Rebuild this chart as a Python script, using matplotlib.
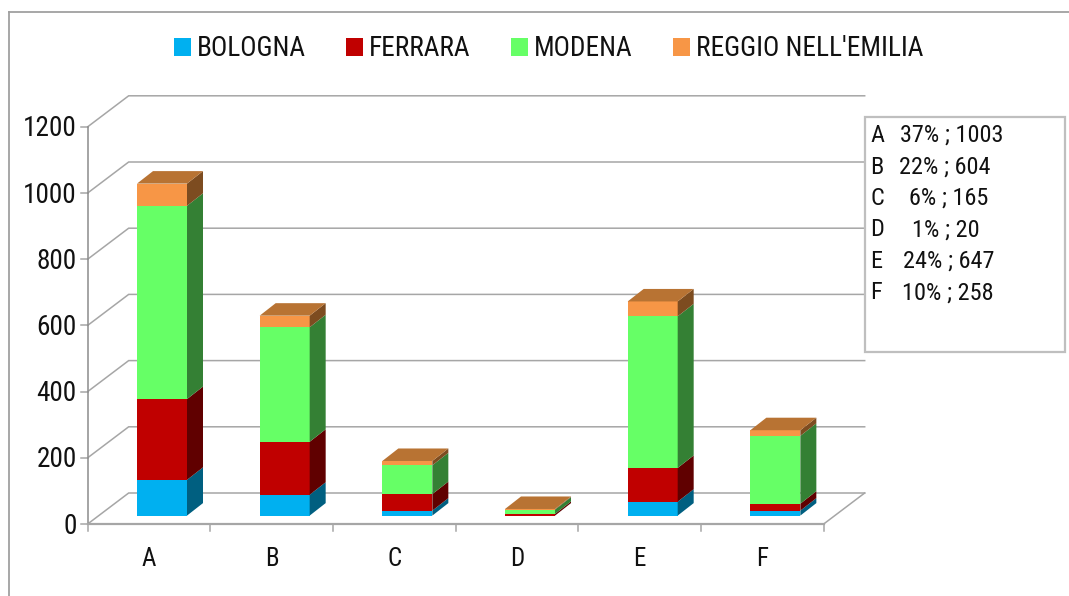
import matplotlib
matplotlib.use("Agg")
import matplotlib.pyplot as plt
import numpy as np
from matplotlib.patches import Rectangle

plt.rcParams['font.family'] = ['Roboto Condensed', 'Archivo Narrow', 'Liberation Sans', 'DejaVu Sans']

categories = ['A', 'B', 'C', 'D', 'E', 'F']
series_names = ['BOLOGNA', 'FERRARA', 'MODENA', "REGGIO NELL'EMILIA"]
bologna = [108, 63, 15, 0, 42, 15]
ferrara = [244, 160, 50, 5, 102, 21]
modena = [584, 346, 87, 13, 458, 205]
reggio = [67, 35, 13, 2, 45, 17]
y_ticks = [0, 200, 400, 600, 800, 1000, 1200]
box_letters = ['A', 'B', 'C', 'D', 'E', 'F']
box_texts = ['37% ; 1003', '22% ; 604', '6% ; 165', '1% ; 20', '24% ; 647', '10% ; 258']

W, H = 1069, 596
colors = ['#00B0F0', '#C00000', '#66FF66', '#F79646']
side_colors = ['#005F80', '#600000', '#348034', '#7D4C20']
top_color = '#B87333'
grid_c = '#a6a6a6'
frame_c = '#a0a0a0'

# pixel geometry of the chart
PX0, STEP = 149.0, 122.67      # first category centre, category spacing
PY0, PPU = 524.0, 0.331        # baseline pixel row, pixels per unit

fig = plt.figure(figsize=(W / 100, H / 100), dpi=100)
ax = fig.add_axes([0, 0, 1, 1])
ax.set_xlim((0 - PX0) / STEP, (W - PX0) / STEP)
ax.set_ylim((PY0 - H) / PPU, PY0 / PPU)
ax.axis('off')

dxu = lambda px: px / STEP
dyu = lambda px: px / PPU

# depth of the whole floor, bar offset and bar depth (pixels)
WALL_DX, WALL_DY = 41, 31
OFF_DX, OFF_DY = 13, 8.4
BAR_W, BAR_DX, BAR_DY = 50, 16, 12.5

x = np.arange(len(categories))
xl, xr = x[0] - 0.5, x[-1] + 0.5

# outer frame (figure coords)
fig.add_artist(plt.Line2D([9 / W, 9 / W], [0, 1 - 12 / H], color=frame_c, lw=1.3))
fig.add_artist(plt.Line2D([9 / W, 1], [1 - 12 / H, 1 - 12 / H], color=frame_c, lw=1.3))

# back wall grid and diagonal
for v in y_ticks:
    ax.plot([xl, xl + dxu(WALL_DX), xr + dxu(WALL_DX)],
            [v, v + dyu(WALL_DY), v + dyu(WALL_DY)],
            color=grid_c, lw=1.1, zorder=1, solid_joinstyle='miter')
    ax.plot([xl - dxu(7), xl], [v, v], color=grid_c, lw=1.1, zorder=1)
ax.plot([xr, xr + dxu(WALL_DX)], [0, dyu(WALL_DY)], color=grid_c, lw=1.1, zorder=1)

# front axes
ax.plot([xl, xl], [y_ticks[0], y_ticks[-1]], color='#8c8c8c', lw=1.1, zorder=1)
ax.plot([xl, xr], [0, 0], color=grid_c, lw=1.6, zorder=1)
for t in np.arange(len(categories) + 1) - 0.5:
    ax.plot([t, t], [0, -dyu(7)], color=grid_c, lw=1.1, zorder=1)

# stacked bars
stack = [bologna, ferrara, modena, reggio]
w = dxu(BAR_W)
xc = x + dxu(OFF_DX)
base = dyu(OFF_DY)
bottom = np.full(len(x), base, dtype=float)
handles = []
for vals, c, sc, name in zip(stack, colors, side_colors, series_names):
    vals = np.array(vals, dtype=float)
    bars = ax.bar(xc, vals, w, bottom=bottom, color=c, linewidth=0, zorder=3, label=name)
    handles.append(bars)
    for xi, b, v in zip(xc, bottom, vals):
        if v <= 0:
            continue
        rx = xi + w / 2
        ax.fill([rx, rx + dxu(BAR_DX), rx + dxu(BAR_DX), rx],
                [b, b + dyu(BAR_DY), b + v + dyu(BAR_DY), b + v],
                color=sc, linewidth=0, zorder=3)
    bottom = bottom + vals
for xi, t in zip(xc, bottom):
    lx, rx = xi - w / 2, xi + w / 2
    ax.fill([lx, rx, rx + dxu(BAR_DX), lx + dxu(BAR_DX)],
            [t, t, t + dyu(BAR_DY), t + dyu(BAR_DY)],
            color=top_color, linewidth=0, zorder=3)

# tick labels
for v in y_ticks:
    ax.text(xl - dxu(11), v + dyu(1), str(v), ha='right', va='center_baseline', fontsize=19.6, color='#111111')
for xi, c in zip(x, categories):
    ax.text(xi, -dyu(32), c, ha='center', va='center_baseline', fontsize=18, color='#111111')

# legend
leg = ax.legend(handles=handles, labels=series_names, ncols=4, frameon=False, fontsize=19.6,
                handlelength=0.63, handleheight=0.63, handletextpad=0.22, columnspacing=1.48,
                loc='center', bbox_to_anchor=(548.5 / W, 1 - 49 / H), borderpad=0, borderaxespad=0)
for t in leg.get_texts():
    t.set_color('#111111')

# annotation box
fig.add_artist(Rectangle((865 / W, 1 - 352 / H), 200 / W, 235 / H, transform=fig.transFigure,
                         facecolor='white', edgecolor='#bfbfbf', lw=1.6, zorder=5))
box_y = [133, 164.5, 196, 227.5, 259, 290.5]
box_x = [900, 899, 909, 912, 903, 902]
for l, s, yy, xx in zip(box_letters, box_texts, box_y, box_x):
    fig.text(870 / W, 1 - yy / H, l, ha='left', va='center_baseline', fontsize=17.5, color='#111111', zorder=6)
    fig.text(xx / W, 1 - yy / H, s, ha='left', va='center_baseline', fontsize=17.5, color='#111111', zorder=6)

fig.savefig('out.png', dpi=100)
